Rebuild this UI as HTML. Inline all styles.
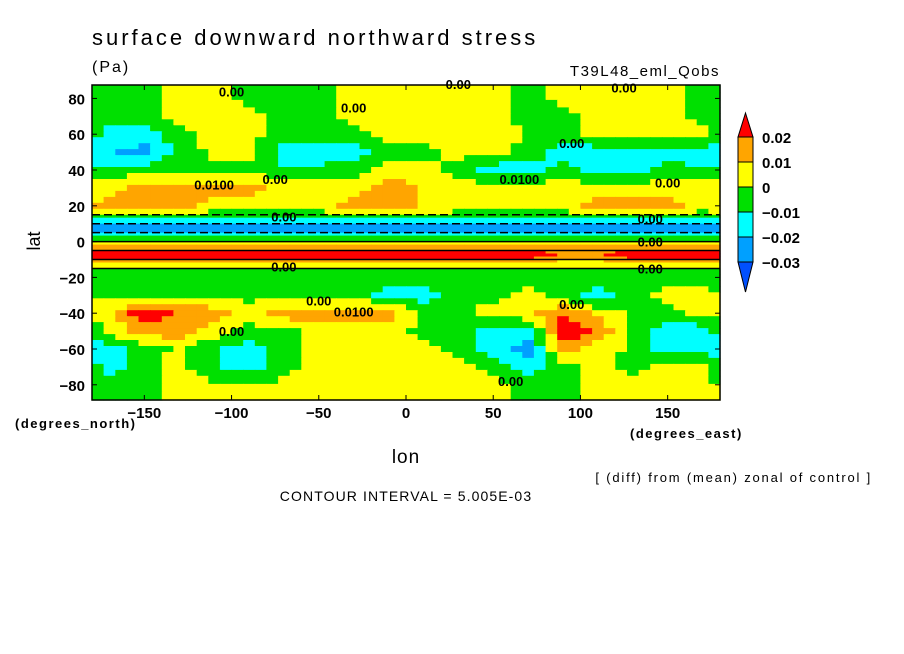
<!DOCTYPE html>
<html><head><meta charset="utf-8"><style>
body{margin:0;background:#fff;width:904px;height:654px;overflow:hidden}
svg{display:block;font-family:"Liberation Sans",sans-serif}
</style></head><body>
<svg id="chart" width="904" height="654">
<text x="92" y="45" font-size="22" letter-spacing="3">surface downward northward stress</text>
<text x="92" y="72" font-size="16" letter-spacing="2">(Pa)</text>
<text x="720" y="76" font-size="15" letter-spacing="1.5" text-anchor="end">T39L48_eml_Qobs</text>
<g id="cells"></g>
<g id="lines"></g>
<g id="labels" font-size="13" font-weight="bold"></g>
<rect x="92" y="85" width="628" height="315" fill="none" stroke="#000" stroke-width="1.5"/>
<g id="axes" font-size="15" font-weight="bold"></g>
<text x="40" y="241" font-size="18" text-anchor="middle" transform="rotate(-90 40 241)">lat</text>
<text x="15" y="428" font-size="13" font-weight="bold" letter-spacing="1.5">(degrees_north)</text>
<text x="630" y="438" font-size="13" font-weight="bold" letter-spacing="1.5">(degrees_east)</text>
<text x="406" y="463" font-size="19" letter-spacing="1" text-anchor="middle">lon</text>
<text x="872" y="482" font-size="13" letter-spacing="1.8" text-anchor="end">[ (diff) from (mean) zonal of control ]</text>
<text x="406" y="501" font-size="14" letter-spacing="1.1" text-anchor="middle">CONTOUR INTERVAL = 5.005E-03</text>
<g id="legend" font-size="15" font-weight="bold"></g>
</svg>
<script>
// data (values in 0.001 Pa)
const lonEdges=[-180,-160,-140,-120,-100,-80,-60,-40,-20,0,20,40,60,80,100,120,140,160,180];
const latEdges=[87.5,75,65,55,45,35,25,15,10,5,0,-5,-10,-15,-25,-35,-45,-55,-65,-75,-88.5];
const values=[
[-3,-3,3,3,-3,-3,-2,3,3,3,3,3,-3,3,3,3,3,-2],
[-3,-3,3,3,3,-3,-3,3,3,3,3,3,-3,-3,3,3,5,-3],
[-16,-14,-3,3,3,-3,-3,-3,3,3,5,8,-3,-3,3,3,3,3],
[-20,-24,-6,3,3,-16,-16,-14,-3,-3,3,3,-3,-16,-16,-16,-14,-16],
[-6,-6,-3,-3,-3,-9,-9,-3,3,3,-3,-16,-16,-6,-16,-14,-6,-9],
[5,16,16,16,14,5,5,5,16,9,5,5,5,5,5,5,5,5],
[16,16,16,5,5,5,5,14,16,9,5,5,5,5,16,16,14,5],
[-12,-12,-12,-12,-12,-12,-12,-12,-12,-12,-12,-12,-12,-12,-12,-12,-12,-12],
[-28,-28,-28,-28,-28,-28,-28,-28,-28,-28,-28,-28,-28,-28,-28,-28,-28,-28],
[-8,-8,-8,-8,-8,-8,-8,-8,-8,-8,-8,-8,-8,-8,-8,-8,-8,-8],
[15,15,15,15,15,15,15,15,15,15,15,15,15,15,15,15,15,15],
[28,28,28,28,28,28,28,28,28,28,28,28,28,16,16,28,28,28],
[5,5,5,5,5,5,5,5,5,5,5,5,5,5,5,5,5,5],
[-3,-3,-3,-3,-3,-3,-3,-3,-3,-3,-3,-3,-3,-3,-3,-3,-3,-3],
[-3,-3,-3,-3,-3,-3,-3,-3,-16,-14,-3,-3,3,-3,-16,-3,3,3],
[6,28,18,16,5,16,16,16,14,-3,-3,5,9,18,6,-3,-3,3],
[3,16,16,6,-3,-3,5,5,5,-3,-3,-14,-16,28,18,-3,-16,-16],
[-16,-6,3,-9,-16,-3,5,5,5,3,-3,-16,-24,16,6,-3,-16,-14],
[-14,-3,3,-9,-16,-3,5,5,5,3,3,-3,-14,-3,3,-3,3,3],
[-3,-3,3,3,3,3,3,3,3,3,3,3,-3,-3,3,3,3,3]
];
const levelBounds=[-30,-20,-10,0,10,20];
const levelColors=["#0050ff","#00a0ff","#00ffff","#00e000","#ffff00","#ffa500","#ff0000"];
const legendLabels=["0.02","0.01","0","\u22120.01","\u22120.02","\u22120.03"];
const lonTicks=[-150,-100,-50,0,50,100,150];
const latTicks=[80,60,40,20,0,-20,-40,-60,-80];
const contourLabels=[["0.00",-100,84],["0.00",-30,75],["0.00",30,88],["0.00",125,86],["0.0100",-110,32],["0.00",-75,35],["0.00",95,55],["0.0100",65,35],["0.00",150,33],["0.00",-70,14],["0.00",-70,-14],["0.00",140,13],["0.00",140,0],["0.00",140,-15],["0.00",-50,-33],["0.0100",-30,-39],["0.00",-100,-50],["0.00",95,-35],["0.00",60,-78]];

const X0=92,X1=720,Y0=85,Y1=400;
const xS=lon=>X0+(lon+180)/360*(X1-X0);
const yS=lat=>Y0+(87.5-lat)/(87.5+88.5)*(Y1-Y0);
const NS="http://www.w3.org/2000/svg";
function colorFor(v){let i=0;while(i<levelBounds.length&&v>=levelBounds[i])i++;return levelColors[i];}
function mk(tag,attrs,parent){const e=document.createElementNS(NS,tag);for(const k in attrs)e.setAttribute(k,attrs[k]);parent.appendChild(e);return e;}
const nR=values.length,nC=values[0].length,SUB=3;
function sample(rf,cf){
  let r0=Math.floor(rf),c0=Math.floor(cf);const tr=rf-r0,tc=cf-c0;
  const R=i=>Math.max(0,Math.min(nR-1,i)),C=j=>((j%nC)+nC)%nC;
  const v00=values[R(r0)][C(c0)],v01=values[R(r0)][C(c0+1)],v10=values[R(r0+1)][C(c0)],v11=values[R(r0+1)][C(c0+1)];
  return (v00*(1-tc)+v01*tc)*(1-tr)+(v10*(1-tc)+v11*tc)*tr;
}
const cells=document.getElementById('cells');
for(let r=0;r<nR;r++)for(let i=0;i<SUB;i++){
  const la0=latEdges[r]+(latEdges[r+1]-latEdges[r])*i/SUB, la1=latEdges[r]+(latEdges[r+1]-latEdges[r])*(i+1)/SUB;
  const y=yS(la0),h=yS(la1)-y;
  for(let c=0;c<nC;c++)for(let j=0;j<SUB;j++){
    const lo0=lonEdges[c]+(lonEdges[c+1]-lonEdges[c])*j/SUB, lo1=lonEdges[c]+(lonEdges[c+1]-lonEdges[c])*(j+1)/SUB;
    const x=xS(lo0),w=xS(lo1)-x;
    const v=sample(r+(i+0.5)/SUB-0.5,c+(j+0.5)/SUB-0.5);
    const e=mk('rect',{x:x.toFixed(1),y:y.toFixed(1),width:(w+0.6).toFixed(1),height:(h+0.6).toFixed(1),fill:colorFor(v)},cells);
    
    
  }
}
const lines=document.getElementById('lines');
latEdges.forEach((la,k)=>{
  if(la<=17&&la>=-17){
    const l=mk('line',{x1:X0,x2:X1,y1:yS(la),y2:yS(la),stroke:'#000','stroke-width':1.5,'stroke-dasharray':la>0?'8,4':'none'},lines);
    
    
  }
});
const lab=document.getElementById('labels');
contourLabels.forEach(l=>{
  const t=mk('text',{x:xS(l[1]),y:yS(l[2])+5,'text-anchor':'middle'},lab);t.textContent=l[0];
  
  
});
const ax=document.getElementById('axes');
lonTicks.forEach(v=>{
  const x=xS(v);
  mk('line',{x1:x,y1:Y1,x2:x,y2:Y1-5,stroke:'#000'},ax);mk('line',{x1:x,y1:Y0,x2:x,y2:Y0+5,stroke:'#000'},ax);
  const t=mk('text',{x:x,y:418,'text-anchor':'middle'},ax);t.textContent=(v<0?'\u2212':'')+Math.abs(v);
  
  
});
latTicks.forEach(v=>{
  const y=yS(v);
  mk('line',{x1:X0,y1:y,x2:X0+5,y2:y,stroke:'#000'},ax);mk('line',{x1:X1,y1:y,x2:X1-5,y2:y,stroke:'#000'},ax);
  const t=mk('text',{x:85,y:y+6,'text-anchor':'end'},ax);t.textContent=(v<0?'\u2212':'')+Math.abs(v);
  
  
});
const lg=document.getElementById('legend');
const lx=738,lw=15,bh=25,legTop=137;
mk('polygon',{points:`${lx},${legTop} ${lx+lw},${legTop} ${lx+lw/2},${legTop-24}`,fill:levelColors[6],stroke:'#000'},lg);
for(let i=0;i<5;i++){
  const b=mk('rect',{x:lx,y:legTop+i*bh,width:lw,height:bh,fill:levelColors[5-i],stroke:'#000'},lg);
  
  
}
mk('polygon',{points:`${lx},${legTop+5*bh} ${lx+lw},${legTop+5*bh} ${lx+lw/2},${legTop+5*bh+30}`,fill:levelColors[0],stroke:'#000'},lg);
legendLabels.forEach((s,i)=>{
  const t=mk('text',{x:762,y:legTop+i*bh+6},lg);t.textContent=s;
  
  
});
</script>
</body></html>
